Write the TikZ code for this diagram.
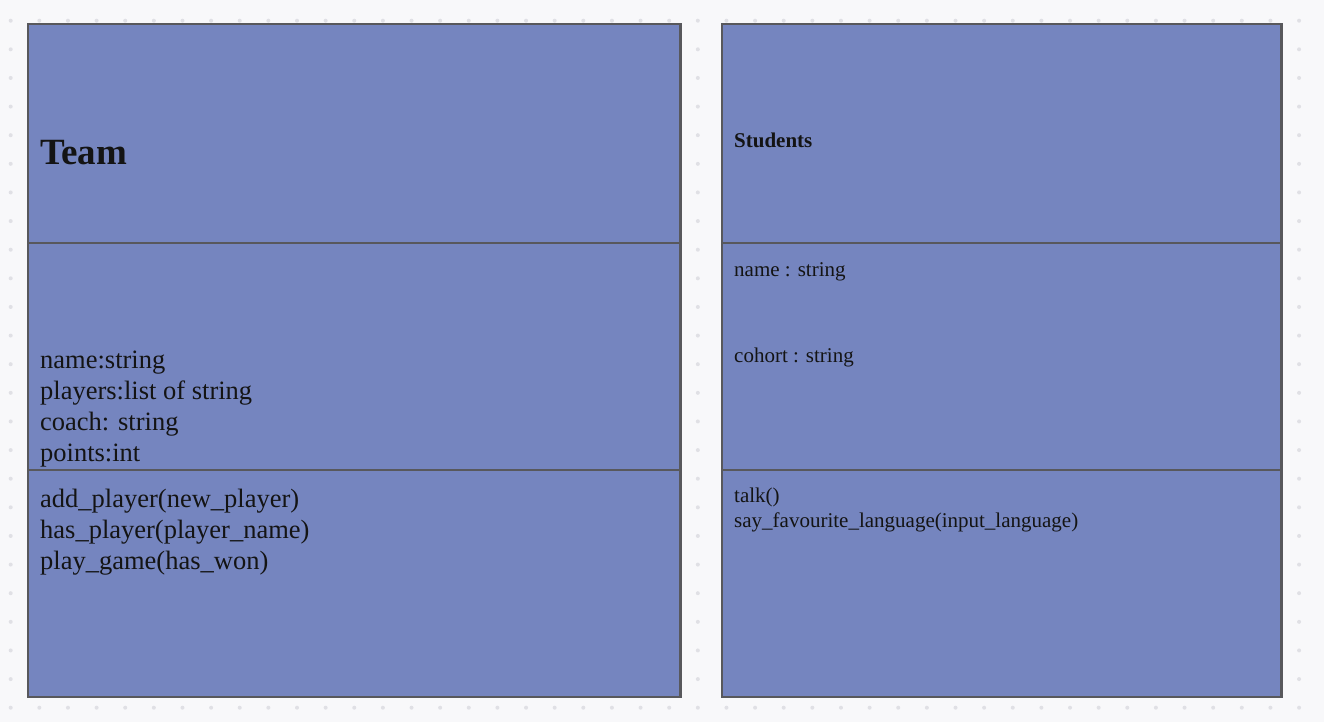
\documentclass[tikz,border=0pt]{standalone}
\usepackage{fontspec}
\setmainfont{Liberation Serif}
\definecolor{bg}{HTML}{F8F8FA}
\definecolor{dotc}{HTML}{E0E0E5}
\definecolor{boxfill}{HTML}{7585BF}
\definecolor{boxline}{HTML}{58585C}
\definecolor{ink}{HTML}{141414}
\begin{document}
\begin{tikzpicture}[x=1pt,y=-1pt,
  comp/.style={draw=boxline, line width=2.5pt, fill=boxfill, rectangle, anchor=north west, inner sep=0pt, outer sep=0pt},
  txt/.style={anchor=base west, inner sep=0pt, text=ink, align=left},
  bigtitle/.style={txt, font=\fontsize{37}{40}\selectfont\bfseries},
  smalltitle/.style={txt, font=\fontsize{21}{24}\selectfont\bfseries},
  bigtxt/.style={txt, font=\fontsize{26.5}{31}\selectfont},
  smalltxt/.style={txt, font=\fontsize{21}{25}\selectfont}]
\useasboundingbox (0,0) rectangle (1324,722);
\fill[bg] (0,0) rectangle (1324,722);
\foreach \i in {0,...,46}{
  \foreach \j in {0,...,24}{
    \fill[dotc] ({10.7+28.63*\i},{20.7+28.625*\j}) circle (2);
  }
}
% Team class
\node[comp, minimum width=652.5pt, minimum height=219pt] (teamhead) at (28,24) {};
\node[comp, minimum width=652.5pt, minimum height=227pt] (teamattr) at (28,243) {};
\node[comp, minimum width=652.5pt, minimum height=227pt] (teamops) at (28,470) {};
\node[bigtitle] (teamname) at (40,165) {Team};
\node[bigtxt] (ta1) at (40,368) {name:string};
\node[bigtxt] (ta2) at (40,399) {players:list of string};
\node[bigtxt] (ta3) at (40,430) {coach: string};
\node[bigtxt] (ta4) at (40,461) {points:int};
\node[bigtxt] (to1) at (40,507) {add\_player(new\_player)};
\node[bigtxt] (to2) at (40,538) {has\_player(player\_name)};
\node[bigtxt] (to3) at (40,569) {play\_game(has\_won)};
% Students class
\node[comp, minimum width=559.5pt, minimum height=219pt] (stuhead) at (722,24) {};
\node[comp, minimum width=559.5pt, minimum height=227pt] (stuattr) at (722,243) {};
\node[comp, minimum width=559.5pt, minimum height=227pt] (stuops) at (722,470) {};
\node[smalltitle] (stuname) at (734,148) {Students};
\node[smalltxt] (sa1) at (734,276) {name : string};
\node[smalltxt] (sa2) at (734,362) {cohort : string};
\node[smalltxt] (so1) at (734,502) {talk()};
\node[smalltxt] (so2) at (734,527) {say\_favourite\_language(input\_language)};
\end{tikzpicture}
\end{document}
